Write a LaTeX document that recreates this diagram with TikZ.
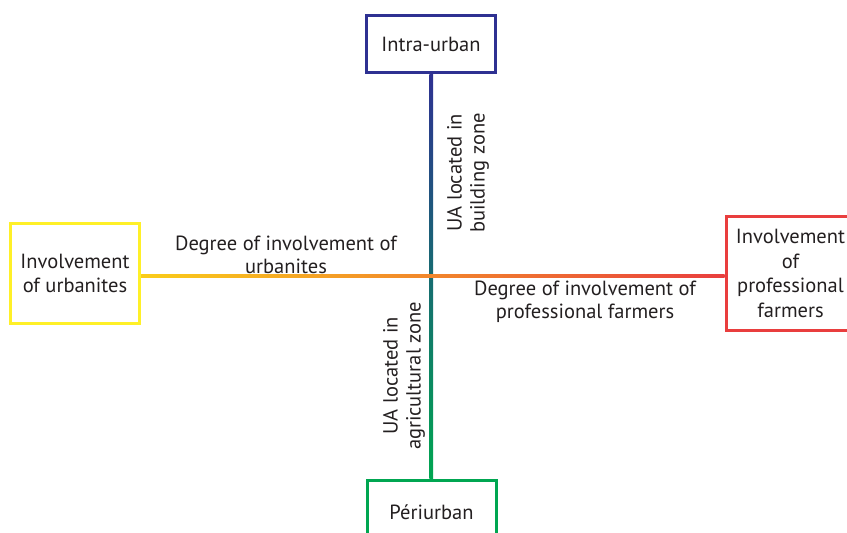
\documentclass[tikz,border=0pt]{standalone}
\usepackage{fontspec}
\setmainfont{PT Sans}
\usetikzlibrary{calc}
\definecolor{intrablue}{RGB}{46,49,146}
\definecolor{periurbgreen}{RGB}{0,166,81}
\definecolor{urbyellow}{RGB}{255,240,40}
\definecolor{farmred}{RGB}{233,62,62}
\definecolor{lineyellow}{RGB}{250,205,25}
\definecolor{lineorange}{RGB}{247,166,50}
\definecolor{labelgrey}{RGB}{35,31,32}

\begin{document}
\begin{tikzpicture}[x=1pt,y=-1pt,
    zone/.style={draw,line width=3pt,align=center,inner sep=0pt,
      text=labelgrey,font=\fontsize{20.5}{24.5}\selectfont},
    axislabel/.style={align=center,inner sep=0pt,
      text=labelgrey,font=\fontsize{20.5}{23}\selectfont}]
    \useasboundingbox (0,0) rectangle (847,533);
    % the four poles
    \node[zone,draw=intrablue,minimum width=129pt,minimum height=57pt] (intra) at (431,44) {Intra-urban};
    \node[zone,draw=periurbgreen,minimum width=129pt,minimum height=64pt] (peri) at (431.5,512) {Périurban};
    \node[zone,draw=urbyellow,minimum width=129pt,minimum height=100pt] (urban) at (75,273.5) {Involvement\\of urbanites};
    \node[zone,draw=farmred,minimum width=129pt,minimum height=114pt] (farm) at (790.5,273.5) {Involvement\\of\\professional\\farmers};
    % axes
    \shade[top color=intrablue,bottom color=periurbgreen]
      ($(intra.south)+(-1.6,0)$) rectangle ($(peri.north)+(1.6,0)$);
    \shade[left color=lineyellow,middle color=lineorange,right color=farmred]
      ($(urban.east)+(0,1.3)$) rectangle ($(farm.west)+(0,4.3)$);
    % axis labels
    \node[axislabel,anchor=south] (urbdeg) at (286,274) {Degree of involvement of\\urbanites};
    \node[axislabel,anchor=north] (farmdeg) at (585,281) {Degree of involvement of\\professional farmers};
    \node[axislabel,rotate=90] (building) at (468,173) {UA located in\\building zone};
    \node[axislabel,rotate=90] (agri) at (404,376) {UA located in\\agricultural zone};
\end{tikzpicture}
\end{document}
